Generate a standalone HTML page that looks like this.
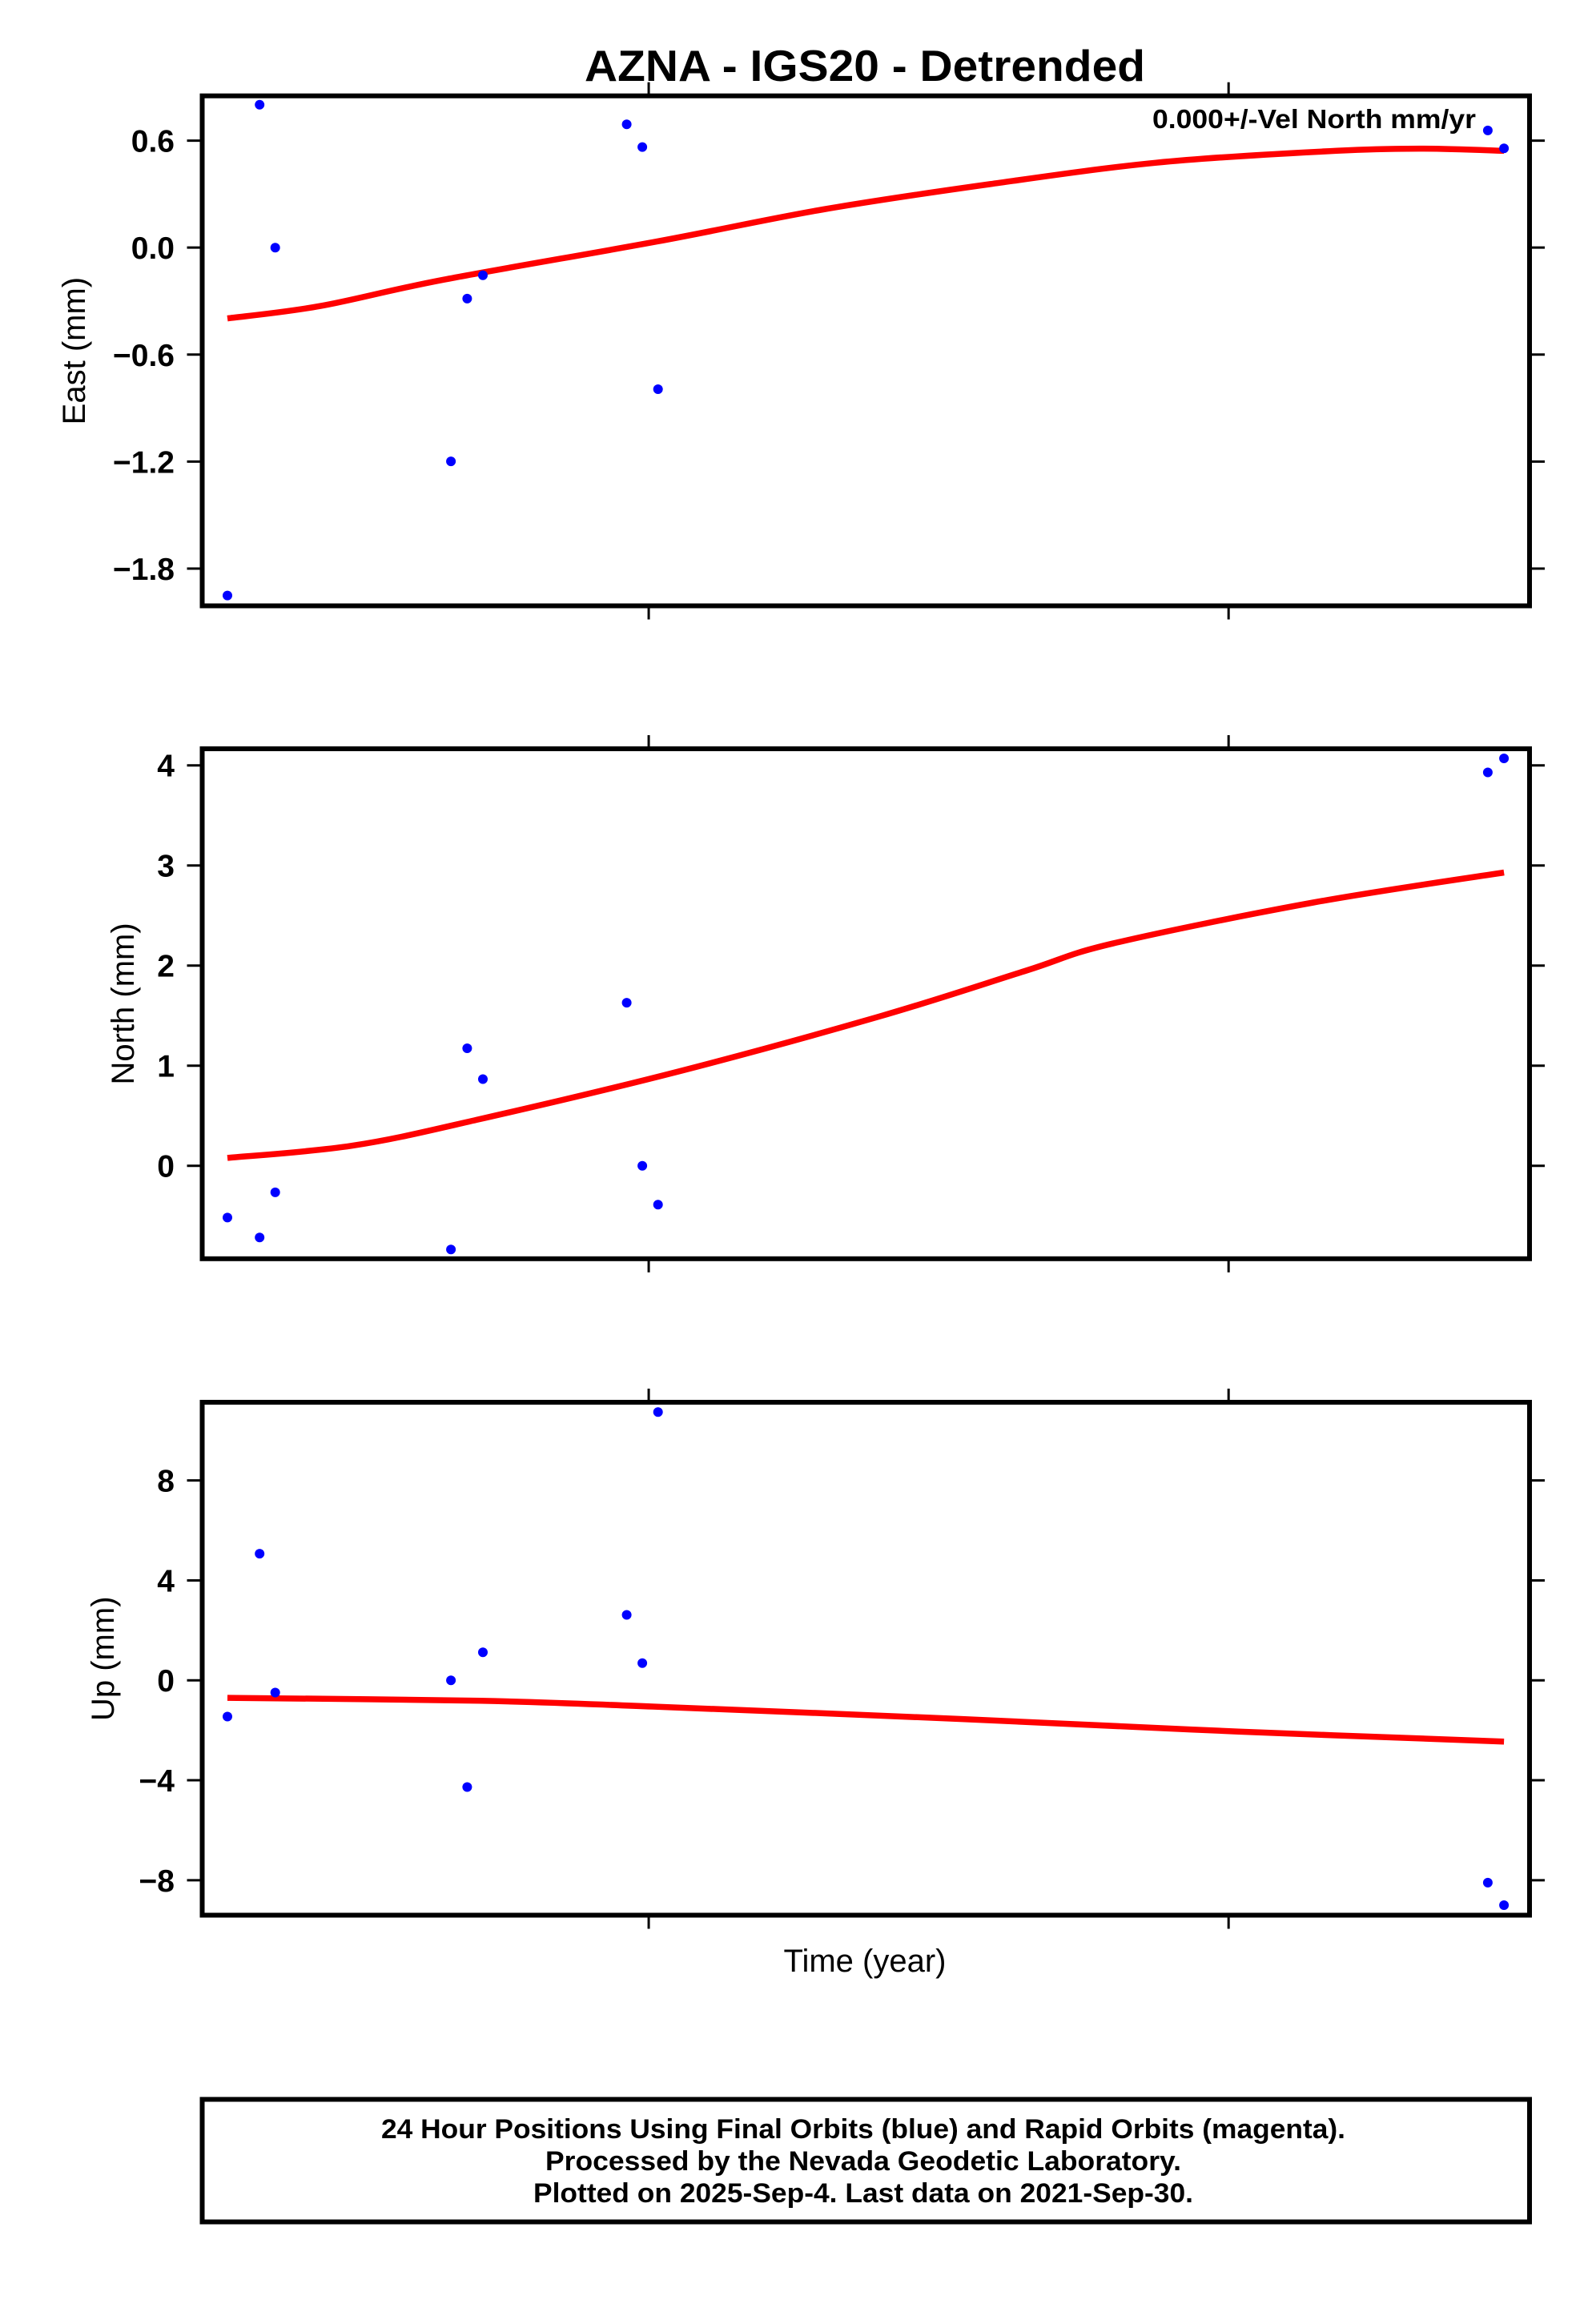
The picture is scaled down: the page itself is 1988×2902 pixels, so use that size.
<!DOCTYPE html>
<html><head><meta charset="utf-8"><title>AZNA - IGS20 - Detrended</title>
<style>html,body{margin:0;padding:0;background:#fff}svg{display:block}</style></head>
<body>
<svg id="chart" xmlns="http://www.w3.org/2000/svg" width="1988" height="2902" viewBox="0 0 1988 2902" font-family="'Liberation Sans', Arial, sans-serif">
<rect x="0" y="0" width="1988" height="2902" fill="#fff"/>
<text x="1080" y="101" text-anchor="middle" font-size="55" font-weight="bold" textLength="700" lengthAdjust="spacingAndGlyphs">AZNA - IGS20 - Detrended</text>
<g id="panels"></g>
<text x="1080" y="2462" text-anchor="middle" font-size="40">Time (year)</text>
<g>
<rect x="252.5" y="2621.5" width="1657.5" height="153" fill="none" stroke="#000" stroke-width="6"/>
<text x="1078" y="2670" text-anchor="middle" font-size="34" font-weight="bold" textLength="1204" lengthAdjust="spacingAndGlyphs">24 Hour Positions Using Final Orbits (blue) and Rapid Orbits (magenta).</text>
<text x="1078" y="2710" text-anchor="middle" font-size="34" font-weight="bold" textLength="794" lengthAdjust="spacingAndGlyphs">Processed by the Nevada Geodetic Laboratory.</text>
<text x="1078" y="2750" text-anchor="middle" font-size="34" font-weight="bold" textLength="824" lengthAdjust="spacingAndGlyphs">Plotted on 2025-Sep-4. Last data on 2021-Sep-30.</text>
</g>
</svg>
<script>
// ---- data ----
const times = [2019.2735, 2019.329, 2019.356, 2019.659, 2019.687, 2019.714, 2019.962, 2019.989, 2020.016, 2021.447, 2021.475];
const eastValues = [-1.951, 0.801, 0.0, -1.199, -0.286, -0.155, 0.691, 0.564, -0.794, 0.657, 0.557];
const northValues = [-0.518, -0.717, -0.266, -0.836, 1.174, 0.866, 1.629, 0.0, -0.388, 3.93, 4.07];
const upValues = [-1.45, 5.07, -0.49, 0.0, -4.27, 1.12, 2.62, 0.69, 10.74, -8.10, -9.0];
const eastModelTimes = [2019.2735, 2019.433, 2019.646, 2020.014, 2020.301, 2020.589, 2020.875, 2021.161, 2021.330, 2021.475];
const eastModel = [-0.397, -0.328, -0.18, 0.034, 0.214, 0.356, 0.476, 0.539, 0.555, 0.543];
const northModelTimes = [2019.2735, 2019.488, 2019.703, 2020.054, 2020.403, 2020.651, 2020.800, 2021.146, 2021.475];
const northModel = [0.078, 0.2, 0.458, 0.946, 1.5, 1.95, 2.22, 2.63, 2.93];
const upModelTimes = [2019.2735, 2019.710, 2020.007, 2020.541, 2021.017, 2021.475];
const upModel = [-0.70, -0.82, -1.05, -1.55, -2.05, -2.45];
const eastTicks = [0.6, 0.0, -0.6, -1.2, -1.8];
const eastTickLabels = ["0.6", "0.0", "\u22120.6", "\u22121.2", "\u22121.8"];
const northTicks = [4, 3, 2, 1, 0];
const northTickLabels = ["4", "3", "2", "1", "0"];
const upTicks = [8, 4, 0, -4, -8];
const upTickLabels = ["8", "4", "0", "\u22124", "\u22128"];
const xTicks = [2020, 2021];

// ---- layout ----
const NS = "http://www.w3.org/2000/svg";
const X0 = 252.5, X1 = 1910;
const T0 = 2019.2300, T1 = 2021.519;
function xScale(t){ return X0 + (t - T0) / (T1 - T0) * (X1 - X0); }
function mk(tag, attrs, parent){ const e = document.createElementNS(NS, tag); for (const k in attrs) e.setAttribute(k, attrs[k]); parent.appendChild(e); return e; }
function smoothPath(pts){
  let d = "M" + pts[0][0].toFixed(1) + "," + pts[0][1].toFixed(1);
  for (let i = 0; i < pts.length - 1; i++){
    const p0 = pts[Math.max(i-1,0)], p1 = pts[i], p2 = pts[i+1], p3 = pts[Math.min(i+2, pts.length-1)];
    const c1x = p1[0] + (p2[0]-p0[0])/6, c1y = p1[1] + (p2[1]-p0[1])/6;
    const c2x = p2[0] - (p3[0]-p1[0])/6, c2y = p2[1] - (p3[1]-p1[1])/6;
    d += "C" + c1x.toFixed(1) + "," + c1y.toFixed(1) + " " + c2x.toFixed(1) + "," + c2y.toFixed(1) + " " + p2[0].toFixed(1) + "," + p2[1].toFixed(1);
  }
  return d;
}

const panels = [
  {key:"east", title:"East (mm)", top:119.7, bottom:756.5, vmin:-2.009, vmax:0.851, vals:eastValues, mt:eastModelTimes, mv:eastModel, ticks:eastTicks, labels:eastTickLabels, titleX:92},
  {key:"north", title:"North (mm)", top:935, bottom:1571.8, vmin:-0.929, vmax:4.166, vals:northValues, mt:northModelTimes, mv:northModel, ticks:northTicks, labels:northTickLabels, titleX:153},
  {key:"up", title:"Up (mm)", top:1751, bottom:2391.5, vmin:-9.40, vmax:11.13, vals:upValues, mt:upModelTimes, mv:upModel, ticks:upTicks, labels:upTickLabels, titleX:128}
];
const root = document.getElementById("panels");
panels.forEach(function(p){
  const yScale = function(v){ return p.bottom - (v - p.vmin) / (p.vmax - p.vmin) * (p.bottom - p.top); };
  const g = mk("g", {}, root);
  
  
  p.ticks.forEach(function(v, i){
    const y = yScale(v);
    const tl = mk("line", {x1:X0-19, x2:X0, y1:y, y2:y, stroke:"#000", "stroke-width":3}, g);
    
    
    const tr = mk("line", {x1:X1, x2:X1+19, y1:y, y2:y, stroke:"#000", "stroke-width":3}, g);
    
    
    const lab = mk("text", {x:218, y:y+14, "text-anchor":"end", "font-size":39, "font-weight":"bold"}, g);
    lab.textContent = p.labels[i];
    
    
  });
  xTicks.forEach(function(t){
    const x = xScale(t);
    const a = mk("line", {x1:x, x2:x, y1:p.top-17, y2:p.top, stroke:"#000", "stroke-width":3}, g);
    
    
    const b = mk("line", {x1:x, x2:x, y1:p.bottom, y2:p.bottom+17, stroke:"#000", "stroke-width":3}, g);
    
    
  });
  const pts = p.mt.map(function(t, i){ return [xScale(t), yScale(p.mv[i])]; });
  const path = mk("path", {d:smoothPath(pts), fill:"none", stroke:"#ff0000", "stroke-width":7.5, "stroke-linejoin":"round"}, g);
  
  
  p.vals.forEach(function(v, i){
    const c = mk("circle", {cx:xScale(times[i]).toFixed(1), cy:yScale(v).toFixed(1), r:6, fill:"#0000ff"}, g);
    
    
  });
  const fr = mk("rect", {x:X0, y:p.top, width:X1-X0, height:p.bottom-p.top, fill:"none", stroke:"#000", "stroke-width":6}, g);
  
  
  const cy = (p.top + p.bottom) / 2;
  const tt = mk("text", {x:p.titleX, y:cy, "text-anchor":"middle", "font-size":40, transform:"rotate(-90 " + p.titleX + " " + cy + ")", dy:14}, g);
  tt.textContent = p.title;
  
  
  if (p.key === "east") {
    const vt = mk("text", {x:1843, y:160, "text-anchor":"end", "font-size":33, "font-weight":"bold", textLength:404, lengthAdjust:"spacingAndGlyphs"}, g);
    vt.textContent = "0.000+/-Vel North mm/yr";
    
    
  }
});
</script>
</body></html>
